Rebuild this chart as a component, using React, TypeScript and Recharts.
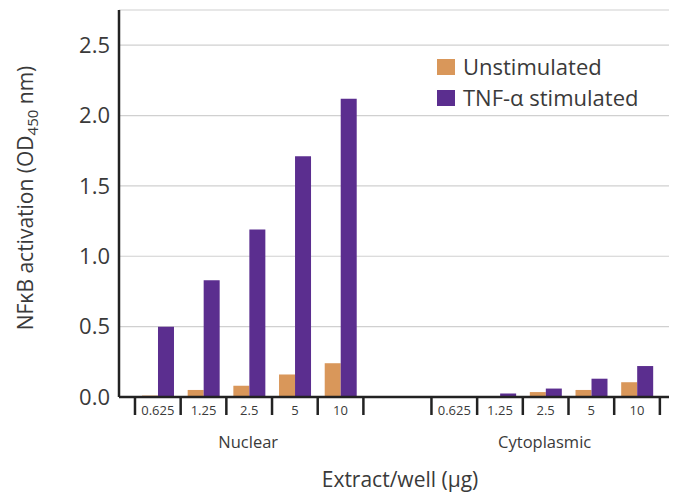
import { BarChart, Bar, XAxis, YAxis, CartesianGrid } from "recharts";

// Extract amounts (µg/well), same for both fractions
const doses = ["0.625", "1.25", "2.5", "5", "10"];
const groups = ["Nuclear", "Cytoplasmic"];

// OD450 readings
const nuclearUnstim = [0.01, 0.05, 0.08, 0.16, 0.24];
const nuclearTnf = [0.5, 0.83, 1.19, 1.71, 2.12];
const cytoUnstim = [0.0, 0.005, 0.035, 0.05, 0.105];
const cytoTnf = [0.0, 0.025, 0.06, 0.13, 0.22];

const yTicks = [0, 0.5, 1.0, 1.5, 2.0, 2.5];

// slot centres on the numeric x axis (one unit = one dose slot)
const groupStart = [0.85, 7.34];
const X_MAX = 12.04;

const ORANGE = "#D9975A";
const PURPLE = "#5B2E8F";
const INK = "#222";
const TEXT = "#3a3a3a";
const FONT = "'Open Sans', sans-serif";

const series = [
  { key: "unstim", name: "Unstimulated", color: ORANGE },
  { key: "tnf", name: "TNF-α stimulated", color: PURPLE },
];

const data = [
  ...doses.map((d, i) => ({
    x: groupStart[0] + i,
    dose: d,
    group: 0,
    unstim: nuclearUnstim[i],
    tnf: nuclearTnf[i],
  })),
  ...doses.map((d, i) => ({
    x: groupStart[1] + i,
    dose: d,
    group: 1,
    unstim: cytoUnstim[i],
    tnf: cytoTnf[i],
  })),
];

const boundaries = groupStart.flatMap((s) =>
  [0, 1, 2, 3, 4, 5].map((k) => s - 0.5 + k)
);
const centers = data.map((d) => d.x);

function XTick(props: any) {
  const { x, y, payload } = props;
  const v = payload.value as number;
  const row = data.find((d) => Math.abs(d.x - v) < 1e-6);
  if (!row) {
    return <line x1={x} x2={x} y1={y} y2={y + 18} stroke={INK} strokeWidth={2.5} />;
  }
  return (
    <g>
      <text x={x} y={y + 18} textAnchor="middle" fontSize={13} fill={TEXT} fontFamily={FONT}>
        {row.dose}
      </text>
      {row.dose === "2.5" && (
        <text x={x - 1} y={y + 51} textAnchor="middle" fontSize={16.5} fill={TEXT} fontFamily={FONT}>
          {groups[row.group]}
        </text>
      )}
    </g>
  );
}

function YLabel() {
  return (
    <text
      transform="translate(33,198) rotate(-90)"
      x={0}
      y={0}
      textAnchor="middle"
      fontSize={21}
      fill={TEXT}
      fontFamily={FONT}
    >
      NFκB activation (OD
      <tspan fontSize={15} dy={5}>450</tspan>
      <tspan dy={-5}> nm)</tspan>
    </text>
  );
}

export default function App() {
  return (
    <div style={{ position: "absolute", left: 0, top: 0, width: 685, height: 493, background: "#fff" }}>
      <BarChart
        width={685}
        height={493}
        data={data}
        margin={{ top: 10, right: 16, bottom: 0, left: 0 }}
        barGap={0}
        barSize={16}
      >
        <CartesianGrid vertical={false} stroke="#d0d0d0" strokeWidth={1.2} />
        <XAxis
          type="number"
          dataKey="x"
          domain={[0, X_MAX]}
          ticks={[...boundaries, ...centers]}
          interval={0}
          tick={<XTick />}
          tickLine={false}
          tickSize={0}
          tickMargin={0}
          axisLine={{ stroke: INK, strokeWidth: 2.5 }}
          height={96}
          allowDataOverflow
          label={{
            value: "Extract/well (μg)",
            position: "insideBottom",
            offset: 6,
            dx: 6,
            fontSize: 21,
            fill: TEXT,
            fontFamily: FONT,
          }}
        />
        <YAxis
          domain={[0, 2.75]}
          ticks={yTicks}
          tickFormatter={(v: number) => v.toFixed(1)}
          tickLine={false}
          tickSize={0}
          tickMargin={9}
          width={119}
          axisLine={{ stroke: INK, strokeWidth: 2.5 }}
          tick={{ fontSize: 22, fill: TEXT, fontFamily: FONT }}
          label={<YLabel />}
        />
        {series.map((s) => (
          <Bar key={s.key} dataKey={s.key} name={s.name} fill={s.color} isAnimationActive={false} />
        ))}
      </BarChart>
      <div
        style={{
          position: "absolute",
          left: 437,
          top: 51,
          fontFamily: FONT,
          fontSize: 22,
          color: TEXT,
          lineHeight: "31px",
        }}
      >
        {series.map((s) => (
          <div key={s.key} style={{ display: "flex", alignItems: "center" }}>
            <span
              style={{
                display: "inline-block",
                width: 18,
                height: 16,
                background: s.color,
                marginRight: 8,
              }}
            />
            {s.name}
          </div>
        ))}
      </div>
    </div>
  );
}
